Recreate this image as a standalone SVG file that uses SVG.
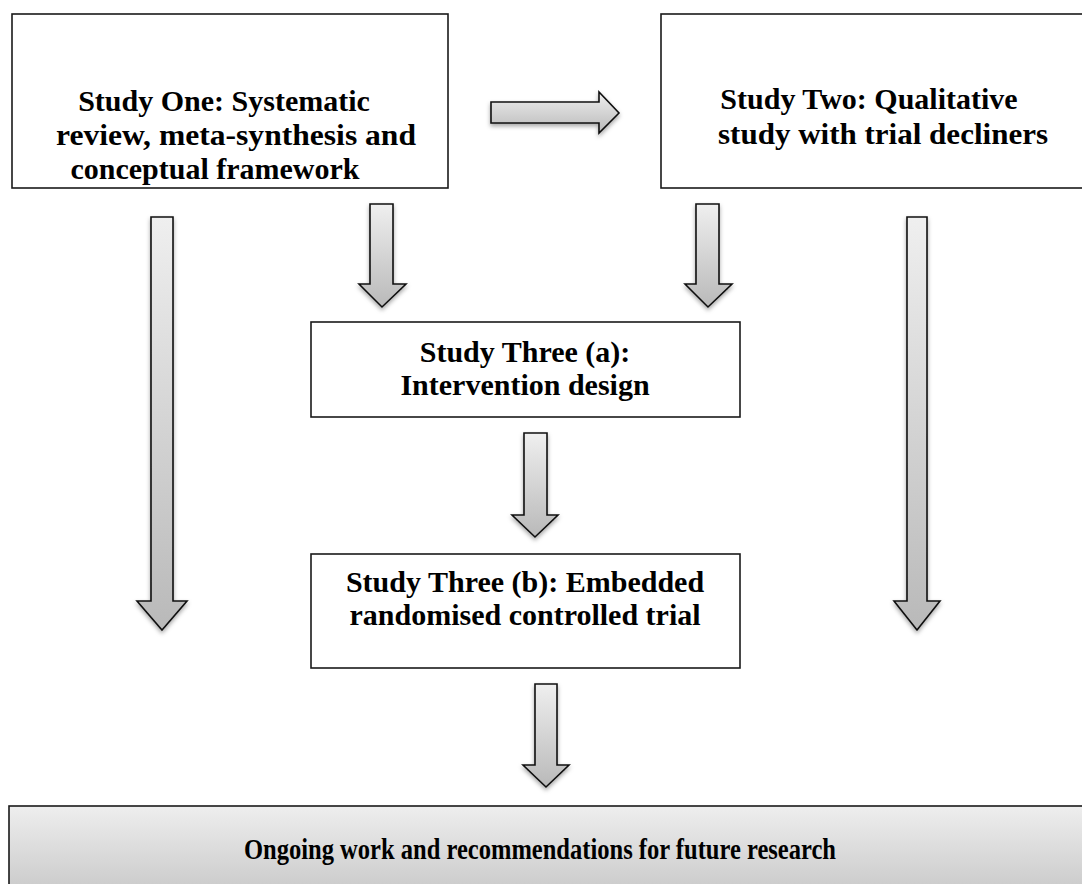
<svg xmlns="http://www.w3.org/2000/svg" width="1082" height="884" viewBox="0 0 1082 884">
  <defs>
    <linearGradient id="arrowFill" x1="0" y1="0" x2="0" y2="1">
      <stop offset="0" stop-color="#efefef"/>
      <stop offset="1" stop-color="#b9b9b9"/>
    </linearGradient>
    <linearGradient id="bandFill" x1="0" y1="0" x2="0" y2="1">
      <stop offset="0" stop-color="#eeeeee"/>
      <stop offset="1" stop-color="#c4c4c4"/>
    </linearGradient>
    <filter id="shadow" x="-30%" y="-10%" width="160%" height="130%">
      <feDropShadow dx="0" dy="2.5" stdDeviation="2" flood-color="#000" flood-opacity="0.35"/>
    </filter>
  </defs>
  <style>
    .box { fill: #ffffff; stroke: #1a1a1a; stroke-width: 1.6; }
    .band { fill: url(#bandFill); stroke: #1a1a1a; stroke-width: 1.6; }
    .arrow { fill: url(#arrowFill); stroke: #111111; stroke-width: 1.6; stroke-linejoin: miter; filter: url(#shadow); }
    .label { font-family: "Liberation Serif", "DejaVu Serif", serif; font-weight: bold; font-size: 30px; fill: #000; text-anchor: middle; }
  </style>
  <rect width="1082" height="884" fill="#ffffff"/>

  <!-- block arrows -->
  <g id="connectors">
    <!-- Study One -> Study Two -->
    <path class="arrow" d="M491,102 L599,102 L599,92 L619,113 L599,133 L599,123 L491,123 Z"/>
    <!-- long left arrow -->
    <path class="arrow" d="M151,217 L173,217 L173,601 L187,601 L162,630 L137,601 L151,601 Z"/>
    <!-- long right arrow -->
    <path class="arrow" d="M907,217 L927,217 L927,601 L940,601 L917,630 L894,601 L907,601 Z"/>
    <!-- Study One -> Study Three (a) -->
    <path class="arrow" d="M370,204 L393,204 L393,284 L406,284 L382,307 L359,284 L370,284 Z"/>
    <!-- Study Two -> Study Three (a) -->
    <path class="arrow" d="M696,204 L719,204 L719,284 L732,284 L708,307 L685,284 L696,284 Z"/>
    <!-- Study Three (a) -> Study Three (b) -->
    <path class="arrow" d="M524,433 L547,433 L547,515 L558,515 L535,537 L512,515 L524,515 Z"/>
    <!-- Study Three (b) -> future research -->
    <path class="arrow" d="M535,684 L557,684 L557,765 L569,765 L546,787 L523,765 L535,765 Z"/>
  </g>

  <g id="study-one">
    <rect class="box" x="12" y="14" width="436" height="174"/>
    <text class="label" x="224" y="111">Study One: Systematic</text>
    <text class="label" x="236" y="145" textLength="360" lengthAdjust="spacingAndGlyphs">review, meta-synthesis and</text>
    <text class="label" x="215" y="179">conceptual framework</text>
  </g>

  <g id="study-two">
    <rect class="box" x="661" y="14" width="440" height="174"/>
    <text class="label" x="869" y="109">Study Two: Qualitative</text>
    <text class="label" x="883" y="144" textLength="330" lengthAdjust="spacingAndGlyphs">study with trial decliners</text>
  </g>

  <g id="study-three-a">
    <rect class="box" x="311" y="322" width="429" height="95"/>
    <text class="label" x="525" y="362">Study Three (a):</text>
    <text class="label" x="525" y="395">Intervention design</text>
  </g>

  <g id="study-three-b">
    <rect class="box" x="311" y="554" width="429" height="114"/>
    <text class="label" x="525" y="592">Study Three (b): Embedded</text>
    <text class="label" x="525" y="625">randomised controlled trial</text>
  </g>

  <g id="future-research">
    <rect class="band" x="9" y="806" width="1090" height="100"/>
    <text class="label" x="540" y="859" textLength="592" lengthAdjust="spacingAndGlyphs">Ongoing work and recommendations for future research</text>
  </g>
</svg>
